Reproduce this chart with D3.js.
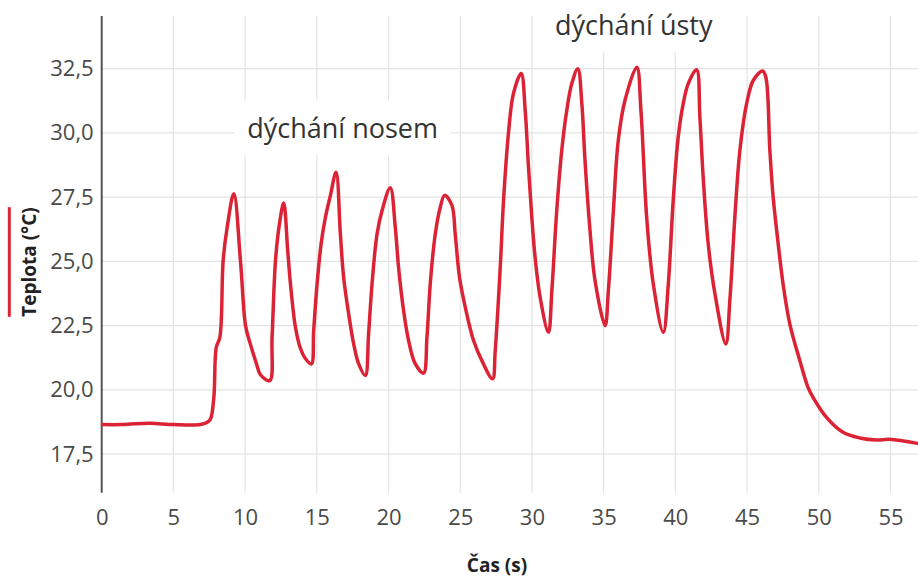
<!DOCTYPE html>
<html>
<head>
<meta charset="utf-8">
<script src="https://cdn.jsdelivr.net/npm/d3@7"></script>
<style>
  html, body { margin: 0; padding: 0; background: #fff; }
  svg { display: block; font-family: "Open Sans", "Noto Sans", sans-serif; }
</style>
</head>
<body>
<svg id="chart" width="918" height="580"></svg>
<script>
// ---- data ----
const time = [0.05,1.32,2.23,3.41,5.01,6.89,7.36,7.59,7.82,7.99,8.24,8.47,8.75,9.21,9.68,10.03,10.33,10.79,11.07,11.72,11.88,12.12,12.40,12.69,12.97,13.16,13.51,13.86,14.20,14.62,14.78,15.02,15.30,15.60,15.95,16.34,16.64,16.87,17.22,17.57,17.92,18.38,18.61,18.85,19.20,19.55,20.12,20.47,20.70,21.05,21.40,21.87,22.44,22.68,22.91,23.26,23.61,23.91,24.42,24.65,24.95,25.35,25.93,26.51,27.25,27.44,27.79,28.02,28.36,28.71,29.25,29.53,29.76,29.99,30.22,30.57,31.15,31.39,31.73,32.08,32.43,32.78,33.20,33.48,33.70,34.05,34.40,35.10,35.33,35.68,36.02,36.49,37.31,37.60,38.00,38.46,39.16,39.51,39.85,40.20,40.55,40.90,41.48,41.71,41.94,42.29,42.76,43.52,43.80,44.15,44.50,44.97,45.43,46.08,46.31,46.59,46.82,47.17,47.51,47.98,48.68,49.25,49.60,50.54,51.69,52.86,54.02,54.94,56.89];
const temperature = [18.65,18.65,18.68,18.70,18.65,18.65,18.74,18.87,19.71,21.66,22.05,25.04,26.33,27.63,24.99,22.50,21.85,21.02,20.59,20.36,22.05,25.04,26.48,27.27,25.42,24.14,22.44,21.61,21.22,21.01,22.31,24.13,25.69,26.72,27.57,28.47,26.09,24.38,22.96,21.79,21.01,20.56,22.18,24.13,26.07,26.98,27.87,26.33,24.77,23.09,21.92,21.01,20.65,22.05,24.13,26.07,27.11,27.57,27.18,26.07,24.38,23.22,21.92,21.14,20.43,21.53,24.77,27.37,29.97,31.53,32.31,30.88,28.67,26.72,25.16,23.61,22.24,23.87,26.98,29.32,30.88,31.92,32.50,31.14,28.93,26.20,24.26,22.50,23.87,26.98,29.71,31.27,32.56,30.88,26.72,24.13,22.24,24.13,27.37,29.84,31.14,31.92,32.46,30.62,28.28,25.69,23.74,21.79,23.48,26.72,29.32,31.14,32.04,32.41,32.17,29.32,27.50,25.69,24.13,22.57,21.14,20.10,19.71,18.93,18.35,18.13,18.05,18.08,17.92];
const xTicks = [0,5,10,15,20,25,30,35,40,45,50,55];
const yTicks = [17.5,20.0,22.5,25.0,27.5,30.0,32.5];
const labels = [
  { text: "dýchání nosem", t: 16.8, v: 30.2 },
  { text: "dýchání ústy", t: 37.1, v: 34.2 }
];
const xTitle = "Čas (s)";
const yTitle = "Teplota (°C)";

// ---- layout ----
const svg = d3.select("#chart");
const pLeft = 101.7, pRight = 918, pTop = 16, pBottom = 492.7;
const x = d3.scaleLinear().domain([0, 56.92]).range([pLeft, pRight]);
const y = d3.scaleLinear().domain([16, 34.55]).range([pBottom, pTop]);
const fmt = d => d3.format(".1f")(d).replace(".", ",");

// grid
svg.append("g").selectAll("line").data(xTicks).join("line")
  .attr("x1", d => x(d)).attr("x2", d => x(d))
  .attr("y1", pTop).attr("y2", pBottom)
  .attr("stroke", "#e3e3e3").attr("stroke-width", 1.2);
svg.append("g").selectAll("line").data(yTicks).join("line")
  .attr("x1", pLeft).attr("x2", pRight)
  .attr("y1", d => y(d)).attr("y2", d => y(d))
  .attr("stroke", "#e3e3e3").attr("stroke-width", 1.2);

// axes via d3 axis (labels only)
const yAxis = d3.axisLeft(y).tickValues(yTicks).tickFormat(fmt).tickSize(0).tickPadding(8);
const gy = svg.append("g").attr("transform", `translate(${pLeft},0)`).call(yAxis);
gy.select(".domain").remove();
gy.selectAll("text").attr("font-size", 22).attr("fill", "#4a4a4a")
  .attr("font-family", "'Open Sans', sans-serif");

const xAxis = d3.axisBottom(x).tickValues(xTicks).tickFormat(d3.format("d")).tickSize(0).tickPadding(17);
const gx = svg.append("g").attr("transform", `translate(0,${pBottom})`).call(xAxis);
gx.select(".domain").remove();
gx.selectAll("text").attr("font-size", 22).attr("fill", "#4a4a4a")
  .attr("font-family", "'Open Sans', sans-serif");

// left axis line
svg.append("line").attr("x1", pLeft).attr("x2", pLeft).attr("y1", pTop).attr("y2", pBottom)
  .attr("stroke", "#555").attr("stroke-width", 2);

// annotation labels with white boxes
labels.forEach(l => {
  const g = svg.append("g");
  const txt = g.append("text")
    .attr("x", x(l.t)).attr("y", y(l.v))
    .attr("text-anchor", "middle").attr("dominant-baseline", "central")
    .attr("font-size", 27).attr("fill", "#333").text(l.text);
  const bb = txt.node().getBBox();
  g.insert("rect", "text")
    .attr("x", bb.x - 13).attr("y", y(l.v) - 27.5)
    .attr("width", bb.width + 26).attr("height", 55)
    .attr("fill", "#fff");
});

// data line
const line = d3.line().x((d, i) => x(time[i])).y(d => y(d)).curve(d3.curveCatmullRom.alpha(0.5));
svg.append("path").datum(temperature)
  .attr("d", line).attr("fill", "none")
  .attr("stroke", "#dc2335").attr("stroke-width", 3.5)
  .attr("stroke-linejoin", "round").attr("stroke-linecap", "round");

// axis titles
svg.append("text").attr("x", 497).attr("y", 572).attr("text-anchor", "middle")
  .attr("font-size", 19).attr("font-weight", "bold").attr("fill", "#222").text(xTitle);
const yt = svg.append("text").attr("transform", "translate(36,262) rotate(-90)")
  .attr("text-anchor", "middle")
  .attr("font-size", 19).attr("font-weight", "bold").attr("fill", "#222").text(yTitle);
const ybb = yt.node().getBBox();
svg.append("line").attr("x1", 9.3).attr("x2", 9.3)
  .attr("y1", 262 - ybb.width / 2).attr("y2", 262 + ybb.width / 2)
  .attr("stroke", "#dc2335").attr("stroke-width", 3);
</script>
</body>
</html>
